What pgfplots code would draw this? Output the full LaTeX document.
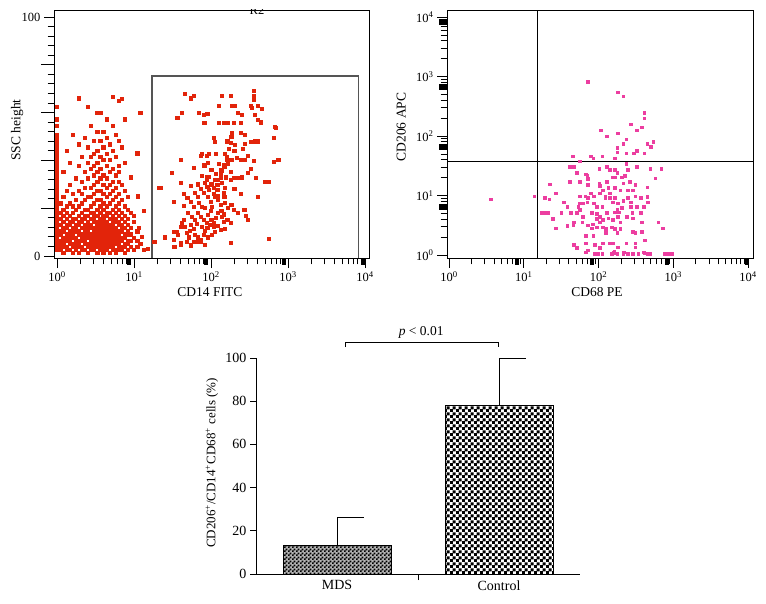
\documentclass[border=0pt]{standalone}
\usepackage{pgfplots}
\pgfplotsset{compat=1.18}
\usepackage{fontspec}
\setmainfont{Liberation Serif}
\usetikzlibrary{patterns}
\definecolor{fcred}{RGB}{226,36,10}
\definecolor{fcpink}{RGB}{236,62,160}
\definecolor{gategray}{RGB}{85,85,85}
\pgfdeclarepatternformonly{finechecker}{\pgfpointorigin}{\pgfqpoint{4pt}{4pt}}{\pgfqpoint{4pt}{4pt}}{%
  \pgfpathrectangle{\pgfpointorigin}{\pgfqpoint{2.1pt}{2.1pt}}%
  \pgfpathrectangle{\pgfqpoint{2pt}{2pt}}{\pgfqpoint{2.1pt}{2.1pt}}%
  \pgfusepath{fill}}
\pgfdeclarepatternformonly{coarsechecker}{\pgfpointorigin}{\pgfqpoint{6pt}{6pt}}{\pgfqpoint{6pt}{6pt}}{%
  \pgfpathrectangle{\pgfpointorigin}{\pgfqpoint{3.4pt}{3.4pt}}%
  \pgfpathrectangle{\pgfqpoint{3pt}{3pt}}{\pgfqpoint{3.4pt}{3.4pt}}%
  \pgfusepath{fill}}
\pgfplotsset{
  fc/.style={scale only axis, tick align=outside, tick pos=left,
    axis line style={line width=0.9pt}, tick style={black, line width=0.8pt},
    major tick length=10pt, minor tick length=6.5pt,
    tick label style={font=\fontsize{12.5}{14}\selectfont},
    label style={font=\fontsize{13.5}{15}\selectfont},
    /pgf/number format/assume math mode=true},
  dec/.style={xtick={0,1,2,3,4},
    xticklabels={10\textsuperscript{0},10\textsuperscript{1},10\textsuperscript{2},10\textsuperscript{3},10\textsuperscript{4}},
    minor xtick={0.301,0.477,0.602,0.699,0.778,0.845,0.903,0.954,1.301,1.477,1.602,1.699,1.778,1.845,1.903,1.954,2.301,2.477,2.602,2.699,2.778,2.845,2.903,2.954,3.301,3.477,3.602,3.699,3.778,3.845,3.903,3.954}},
}
\begin{document}
\begin{tikzpicture}[x=1pt,y=1pt]
\useasboundingbox (0,0) rectangle (766,603);
\begin{scope}
\clip (54,345) rectangle (369,593);
\node[anchor=south, inner sep=0pt, font=\fontsize{12.5}{14}\selectfont] at (257,588) {R2};
\end{scope}
% ---------------- Panel A ----------------
\begin{axis}[fc, dec, at={(54pt,345pt)}, anchor=south west, width=315pt, height=248pt,
  xmin=-0.04, xmax=4.05, ymin=-0.84, ymax=102.9,
  ytick={0,100}, minor ytick={4,8,...,96},
  extra y ticks={20,40,60,80}, extra y tick labels={},
  extra y tick style={major tick length=13pt},
  extra x ticks={0.93,1.93,2.94,3.97}, extra x tick labels={},
  extra x tick style={major tick length=7pt, tick style={line width=4pt}},
  xlabel={CD14 FITC}, xlabel style={at={(axis description cs:0.495,-0.137)}, anchor=center},
  ylabel={SSC height}, ylabel style={at={(axis description cs:-0.117,0.516)}, anchor=center},
]
\addplot[only marks, mark=square*, mark size=1.6pt, color=fcred] coordinates {
(.08,1.3)(.2,1.3)(.28,1.3)(.4,1.3)(.52,1.3)(.6,1.3)(.68,1.3)(.76,1.3)(.88,1.3)
(0,2.6)(.04,2.6)(.12,2.6)(.16,2.6)(.24,2.6)(.32,2.6)(.36,2.6)(.44,2.6)(.48,2.6)(.56,2.6)(.6,2.6)(.64,2.6)(.72,2.6)(.76,2.6)(.8,2.6)(.84,2.6)(.92,2.6)(1,2.6)(1.12,2.6)
(0,3.9)(.04,3.9)(.08,3.9)(.12,3.9)(.2,3.9)(.24,3.9)(.28,3.9)(.32,3.9)(.4,3.9)(.44,3.9)(.48,3.9)(.52,3.9)(.56,3.9)(.6,3.9)(.64,3.9)(.68,3.9)(.72,3.9)(.8,3.9)(.84,3.9)(.88,3.9)(.96,3.9)(1.04,3.9)
(0,5.2)(.04,5.2)(.08,5.2)(.16,5.2)(.2,5.2)(.24,5.2)(.28,5.2)(.36,5.2)(.4,5.2)(.44,5.2)(.48,5.2)(.52,5.2)(.56,5.2)(.6,5.2)(.64,5.2)(.68,5.2)(.72,5.2)(.76,5.2)(.8,5.2)(.88,5.2)(.92,5.2)(1.08,5.2)
(0,6.5)(.04,6.5)(.08,6.5)(.12,6.5)(.16,6.5)(.24,6.5)(.28,6.5)(.32,6.5)(.36,6.5)(.44,6.5)(.48,6.5)(.52,6.5)(.56,6.5)(.6,6.5)(.64,6.5)(.68,6.5)(.72,6.5)(.76,6.5)(.8,6.5)(.84,6.5)(.92,6.5)(.96,6.5)(1.04,6.5)
(0,7.8)(.08,7.8)(.12,7.8)(.16,7.8)(.2,7.8)(.24,7.8)(.32,7.8)(.36,7.8)(.4,7.8)(.44,7.8)(.48,7.8)(.52,7.8)(.56,7.8)(.6,7.8)(.64,7.8)(.68,7.8)(.72,7.8)(.76,7.8)(.8,7.8)(.84,7.8)(.88,7.8)(1,7.8)
(0,9.1)(.04,9.1)(.12,9.1)(.16,9.1)(.2,9.1)(.28,9.1)(.32,9.1)(.36,9.1)(.4,9.1)(.44,9.1)(.48,9.1)(.52,9.1)(.56,9.1)(.6,9.1)(.64,9.1)(.68,9.1)(.72,9.1)(.76,9.1)(.8,9.1)(.88,9.1)(.92,9.1)(.96,9.1)
(0,10.4)(.04,10.4)(.08,10.4)(.16,10.4)(.2,10.4)(.24,10.4)(.28,10.4)(.36,10.4)(.4,10.4)(.48,10.4)(.52,10.4)(.56,10.4)(.6,10.4)(.64,10.4)(.68,10.4)(.72,10.4)(.76,10.4)(.8,10.4)(.84,10.4)(.92,10.4)(1.04,10.4)
(0,11.7)(.08,11.7)(.12,11.7)(.2,11.7)(.24,11.7)(.32,11.7)(.36,11.7)(.4,11.7)(.44,11.7)(.48,11.7)(.52,11.7)(.56,11.7)(.6,11.7)(.64,11.7)(.68,11.7)(.72,11.7)(.76,11.7)(.84,11.7)(.88,11.7)(.96,11.7)
(0,13)(.04,13)(.12,13)(.16,13)(.24,13)(.28,13)(.36,13)(.4,13)(.44,13)(.52,13)(.56,13)(.6,13)(.64,13)(.68,13)(.72,13)(.8,13)(.84,13)(.92,13)
(0,14.3)(.08,14.3)(.16,14.3)(.2,14.3)(.28,14.3)(.32,14.3)(.4,14.3)(.48,14.3)(.52,14.3)(.56,14.3)(.6,14.3)(.64,14.3)(.72,14.3)(.76,14.3)(.8,14.3)(.88,14.3)(1,14.3)
(0,15.6)(.04,15.6)(.12,15.6)(.2,15.6)(.24,15.6)(.32,15.6)(.36,15.6)(.44,15.6)(.48,15.6)(.56,15.6)(.6,15.6)(.68,15.6)(.72,15.6)(.76,15.6)(.84,15.6)(.92,15.6)
(0,16.9)(.08,16.9)(.16,16.9)(.28,16.9)(.36,16.9)(.4,16.9)(.48,16.9)(.52,16.9)(.6,16.9)(.64,16.9)(.72,16.9)(.8,16.9)(.88,16.9)
(0,18.2)(.04,18.2)(.12,18.2)(.2,18.2)(.32,18.2)(.44,18.2)(.48,18.2)(.56,18.2)(.64,18.2)(.68,18.2)(.76,18.2)(.84,18.2)(.96,18.2)
(0,19.5)(.08,19.5)(.24,19.5)(.36,19.5)(.4,19.5)(.52,19.5)(.6,19.5)(.72,19.5)(.8,19.5)(.92,19.5)
(0,20.8)(.12,20.8)(.2,20.8)(.28,20.8)(.44,20.8)(.56,20.8)(.64,20.8)(.76,20.8)(.88,20.8)
(0,22.1)(.04,22.1)(.16,22.1)(.32,22.1)(.48,22.1)(.6,22.1)(.68,22.1)(.8,22.1)
(0,23.4)(.24,23.4)(.36,23.4)(.52,23.4)(.56,23.4)(.72,23.4)(.84,23.4)
(0,24.7)(.08,24.7)(.4,24.7)(.44,24.7)(.64,24.7)(.76,24.7)(.92,24.7)
(0,26)(.2,26)(.32,26)(.48,26)(.6,26)(.68,26)(.8,26)
(0,27.3)(.12,27.3)(.28,27.3)(.52,27.3)(.56,27.3)(.72,27.3)(.88,27.3)
(0,28.6)(.36,28.6)(.44,28.6)(.64,28.6)(.76,28.6)
(0,29.9)(.16,29.9)(.48,29.9)(.6,29.9)(.68,29.9)(.84,29.9)
(0,31.2)(.32,31.2)(.52,31.2)(.72,31.2)(.8,31.2)
(0,32.5)(.24,32.5)(.4,32.5)(.56,32.5)(.64,32.5)
(0,33.8)(.48,33.8)(.6,33.8)(.76,33.8)
(0,35.1)(.08,35.1)(.36,35.1)(.52,35.1)(.68,35.1)(.8,35.1)
(0,36.4)(.44,36.4)(.56,36.4)(.72,36.4)
(0,37.7)(.28,37.7)(.48,37.7)(.64,37.7)(.8,37.7)
(0,39)(.16,39)(.4,39)(.52,39)(.88,39)
(0,40.3)(.6,40.3)(.68,40.3)
(0,41.6)(.32,41.6)(.44,41.6)(.56,41.6)(.76,41.6)
(0,42.9)(.48,42.9)(.64,42.9)
(0,44.2)(.12,44.2)(.52,44.2)(.72,44.2)
(0,45.5)(.4,45.5)(.6,45.5)(.84,45.5)
(0,46.8)(.28,46.8)(.68,46.8)
(0,48.1)(.48,48.1)(.56,48.1)(.8,48.1)
(0,49.4)(.36,49.4)(.64,49.4)
(0,50.7)(.2,50.7)(.76,50.7)
(.52,52)(.6,52)
(0,54.6)(.44,54.6)(.72,54.6)
(0,57.2)(.64,57.2)(.88,57.2)
(.52,59.8)(.56,59.8)
(0,62.4)(.4,62.4)
(.8,64.8)
(.28,66)(.72,66.6)(.84,65.7)
(1.08,60)(1.04,43)(1.12,19)(1.25,6)(1.18,3)(1.1,8)(1.06,12)(1,17)(1.05,25)(.96,33)
(1.66,68)(1.77,67)(1.74,66)(2.14,67)(2.25,67)(2.55,69)(2.55,67)(2.55,65.5)
(1.62,60)(1.56,58)(1.84,60)(1.90,59)(1.95,59.4)(2.10,62.8)(2.27,63)(2.31,63)(2.35,60)(2.40,59)(2.51,63)(2.53,62)(2.61,63)(2.66,61.5)(2.57,59)(2.60,57)(2.64,56)
(1.91,55.6)(2.10,55.6)(2.17,55.6)(2.22,55.6)(2.29,55.6)(2.38,55.6)
(2.27,51.5)(2.26,49.8)(2.38,51.5)(2.44,50.6)(2.84,53.5)
(2.03,49.4)(2.05,47.7)(2.21,48)(2.25,47.3)(2.31,46.4)(2.44,46.9)(2.51,47.7)(2.57,48)(2.61,48)(2.81,49.4)
(1.88,42.7)(1.94,41.8)(1.97,42.7)(2.06,42.7)(2.18,42.7)(2.21,40.2)(2.27,40.2)(2.38,40.2)(2.44,40.2)(2.55,39.7)(2.81,39.3)(2.87,40.2)(1.60,40.2)
(1.77,36.8)(1.90,38)(1.96,38.9)(1.49,34.7)(2.12,36)(2.18,37.2)(2.12,33)(2.09,31.8)(2.25,35.1)(2.34,32.6)(2.40,33)(2.47,34.7)(2.51,36.4)(2.58,32.6)(2.70,31)
(1.32,28.5)(1.73,29.3)(1.92,30.5)(1.95,28.9)(1.97,27.6)(2.05,31.8)(2.08,29.7)(2.08,27.6)(2.14,30.5)(2.18,28.5)(2.16,26.4)(2.25,31.8)(2.29,32.6)(2.35,32.6)(2.61,24.7)
(1.64,25.9)(1.69,24.3)(1.79,26.4)(1.83,24.7)(1.90,26.4)(1.96,24.7)(1.99,22.6)(2.01,20.5)(2.05,24.7)(2.09,23.4)(2.12,21.3)(2.17,24.7)(2.18,22.2)(2.22,20.1)(2.26,21.3)(2.29,19.2)
(1.51,22.6)(1.74,22.6)(1.77,20.5)(1.84,22.2)(1.88,20.5)(1.92,20.1)(1.64,20.9)(2.43,19.2)(2.45,16.7)
(1.70,18)(1.75,16.3)(1.79,15.1)(1.83,18)(1.86,16.3)(1.90,15.1)(1.96,17.2)(2.0,15.1)(2.03,13.8)(2.09,18)(2.14,16.3)(2.16,14.2)(2.21,15.1)(2.25,13.8)(2.35,18)(2.47,15.1)
(1.62,13.8)(1.66,12.1)(1.60,12.1)(1.73,13)(1.77,11.3)(1.88,12.1)(1.92,10.5)(1.95,11.7)(2.03,12.1)(2.05,10)(2.12,10.9)
(1.55,10)(1.57,8.8)(1.68,9.6)(1.71,7.9)(1.79,8.8)(1.83,7.9)(1.86,6.7)(1.96,7.9)(2.01,8.8)
(1.51,6.7)(1.60,5.4)(1.53,3.8)(1.40,7.9)(1.26,5.9)(1.77,5.9)(1.82,5.9)(1.86,5.9)(2.25,5.4)(2.75,7.1)(1.64,15.1)
(1.86,42)(1.91,38)(1.60,30.5)(1.34,28.5)(1.51,10)(1.51,3.8)(1.60,4.6)(2.74,31)(2.83,54)
(1.94,32)(1.97,33.2)(1.94,33.2)(2.12,34.5)(2.14,35.6)(2.0,36)(2.16,38)(2.22,38.5)(2.03,26)(2.08,25.2)
(1.83,30)(1.86,28)(1.88,33.5)(2.0,30)(2.03,28.5)(2.06,34.5)(2.1,38.5)(2.19,33)(2.2,41.5)(2.23,45)(2.3,44)(2.33,41)
(2.13,19)(2.16,17.5)(2.06,16)(1.99,18.8)(1.94,14)(1.81,13.5)(1.72,10.5)(1.9,9)(1.98,13)(2.08,12.8)(2.18,11.5)
(1.68,5.9)(1.74,4.5)(1.92,4.8)(2.3,28)(2.38,26)(2.41,45)(2.48,42)
};
\addplot[gategray, line width=1.3pt] coordinates {(1.234,-0.84) (1.234,75.3) (3.91,75.3) (3.91,-0.84)};
\end{axis}
% ---------------- Panel B ----------------
\begin{axis}[fc, dec, at={(447pt,345pt)}, anchor=south west, width=306pt, height=248pt,
  xmin=-0.027, xmax=4.067, ymin=-0.05, ymax=4.12,
  ytick={0,1,2,3,4},
  yticklabels={10\textsuperscript{0},10\textsuperscript{1},10\textsuperscript{2},10\textsuperscript{3},10\textsuperscript{4}},
  minor ytick={0.301,0.477,0.602,0.699,0.778,0.845,0.903,0.954,1.301,1.477,1.602,1.699,1.778,1.845,1.903,1.954,2.301,2.477,2.602,2.699,2.778,2.845,2.903,2.954,3.301,3.477,3.602,3.699,3.778,3.845,3.903,3.954},
  extra x ticks={0.91,1.91,2.92,3.99}, extra x tick labels={},
  extra x tick style={major tick length=7pt, tick style={line width=4pt}},
  extra y ticks={0.81,1.82,2.82,3.92}, extra y tick labels={},
  extra y tick style={major tick length=8pt, tick style={line width=6pt}},
  xlabel={CD68 PE}, xlabel style={at={(axis description cs:0.49,-0.137)}, anchor=center},
  ylabel={CD206 APC}, ylabel style={at={(axis description cs:-0.150,0.528)}, anchor=center},
]
\addplot[black, line width=0.9pt] coordinates {(1.18,-0.05) (1.18,4.12)};
\addplot[black, line width=0.9pt] coordinates {(-0.027,1.58) (4.067,1.58)};
\addplot[only marks, mark=square*, mark size=1.35pt, color=fcpink] coordinates {
(1.86,2.92)(2.26,2.74)(2.33,2.67)(2.61,2.39)(2.61,2.30)(2.43,2.20)(2.51,2.10)(2.58,2.15)(2.03,2.10)(2.26,2.05)(2.11,2.0)(2.37,1.95)(2.65,1.87)(2.73,1.90)(2.70,1.82)(2.33,1.87)(2.25,1.80)(2.25,1.73)(2.37,1.71)(2.47,1.71)(2.51,1.76)(2.61,1.71)(2.05,1.66)(1.90,1.66)(1.93,1.63)(2.22,1.63)(1.65,1.66)(1.75,1.58)
(1.61,1.48)(1.67,1.48)(2.01,1.45)(2.11,1.48)(2.15,1.43)(2.22,1.43)(2.25,1.38)(2.22,1.31)(2.37,1.53)(2.39,1.43)(2.51,1.48)(2.69,1.45)(2.84,1.45)(1.71,1.39)(1.83,1.36)(1.85,1.33)(1.86,1.28)(1.61,1.23)(1.75,1.23)(2.01,1.21)(2.11,1.23)(2.19,1.31)(2.31,1.31)(2.35,1.33)(2.33,1.21)(2.42,1.23)(2.49,1.18)(2.76,1.29)(1.35,1.19)(1.86,1.18)(2.02,1.16)(2.13,1.13)(2.06,1.09)(2.22,1.13)(2.29,1.09)(2.39,1.09)(2.46,1.09)(2.65,1.14)
(1.14,0.99)(1.28,0.96)(1.34,0.94)(1.43,1.04)(1.75,0.99)(1.82,0.99)(1.86,0.96)(1.90,1.04)(1.94,0.99)(2.02,1.04)(2.09,0.99)(2.09,0.96)(2.15,1.04)(2.15,0.96)(2.22,0.96)(2.19,0.89)(2.26,0.87)(2.33,0.91)(2.39,0.96)(2.43,0.89)(2.49,0.99)(2.56,0.96)(2.65,0.98)(2.66,0.89)(1.53,0.89)(1.58,0.81)(1.75,0.87)(1.79,0.87)(1.85,0.89)(1.94,0.87)(1.73,0.81)(1.75,0.76)(1.98,0.81)(2.05,0.81)(2.25,0.76)(2.31,0.79)(2.43,0.81)(2.51,0.81)(2.60,0.81)
(1.24,0.71)(1.32,0.71)(1.50,0.71)(1.63,0.71)(1.71,0.71)(1.79,0.64)(1.91,0.71)(1.98,0.69)(1.98,0.61)(2.02,0.64)(2.02,0.55)(2.06,0.59)(2.11,0.71)(2.13,0.62)(2.22,0.72)(2.27,0.72)(2.26,0.64)(2.19,0.59)(2.29,0.55)(2.38,0.64)(2.45,0.71)(2.46,0.62)(2.56,0.71)(2.58,0.55)(2.80,0.55)(1.39,0.61)(1.43,0.45)(1.58,0.49)(1.67,0.55)(1.66,0.50)(1.78,0.55)(1.86,0.50)(1.92,0.52)(1.91,0.45)(1.98,0.47)(2.06,0.47)(2.10,0.44)(2.10,0.37)(2.18,0.47)(2.22,0.44)(2.25,0.37)(2.29,0.44)(2.46,0.39)(2.49,0.37)(2.58,0.39)(2.62,0.25)(2.86,0.45)(1.83,0.32)(1.93,0.32)
(1.67,0.17)(1.71,0.12)(1.83,0.20)(1.86,0.08)(1.83,0.05)(1.95,0.17)(2.02,0.12)(2.06,0.20)(2.15,0.20)(2.19,0.20)(2.26,0.13)(2.37,0.20)(2.49,0.13)(2.49,0.20)(2.34,0.05)
(1.95,.02)(1.99,.02)(2.05,.02)(2.18,.02)(2.22,.03)(2.25,.02)(2.33,.02)(2.39,.02)(2.46,.02)(2.53,.02)(2.62,.03)(2.65,.02)(2.69,.02)(2.89,.02)(2.93,.02)(2.98,.02)(2.20,.04)(2.21,.06)(2.60,.05)
(0.56,0.94)(1.26,0.71)(1.30,0.71)
};
\end{axis}
% ---------------- Panel C ----------------
\begin{axis}[scale only axis, at={(256pt,29pt)}, anchor=south west, width=324pt, height=216pt,
  xmin=0.5, xmax=2.5, ymin=0, ymax=100, clip=false,
  axis x line=bottom, axis y line=left, axis line style={-, line width=0.9pt},
  tick align=outside, major tick length=6pt, tick style={black, line width=0.8pt},
  ytick={0,20,...,100}, xtick={1.5}, xticklabels={},
  extra x ticks={1,2}, extra x tick labels={MDS,Control},
  extra x tick style={major tick length=0pt, xticklabel style={yshift=-3pt}},
  tick label style={font=\fontsize{14}{16}\selectfont},
  /pgf/number format/assume math mode=true,
  ylabel={CD206\textsuperscript{+}/CD14\textsuperscript{+}CD68\textsuperscript{+} cells (\%)},
  ylabel style={at={(axis description cs:-0.136,0.514)}, anchor=center, font=\fontsize{13}{15}\selectfont},
]
\addplot[ybar, bar width=108pt, bar shift=0pt, draw=black, line width=1pt, fill=black!30, postaction={pattern=finechecker}] coordinates {(1,13)};
\addplot[ybar, bar width=108pt, bar shift=0pt, draw=black, line width=1pt, pattern=coarsechecker] coordinates {(2,78)};
\addplot[black, line width=1pt] coordinates {(1,13) (1,26)};
\addplot[black, line width=1pt] coordinates {(1,26) (1.165,26)};
\addplot[black, line width=1pt] coordinates {(2,78) (2,100)};
\addplot[black, line width=1pt] coordinates {(2,100) (2.165,100)};
\addplot[black, line width=0.8pt] coordinates {(1.05,105) (1.05,107.4) (1.995,107.4) (1.995,105)};
\node[font=\fontsize{13.5}{15}\selectfont] at (axis cs:1.52,112) {\textit{p} < 0.01};
\end{axis}
\end{tikzpicture}
\end{document}
